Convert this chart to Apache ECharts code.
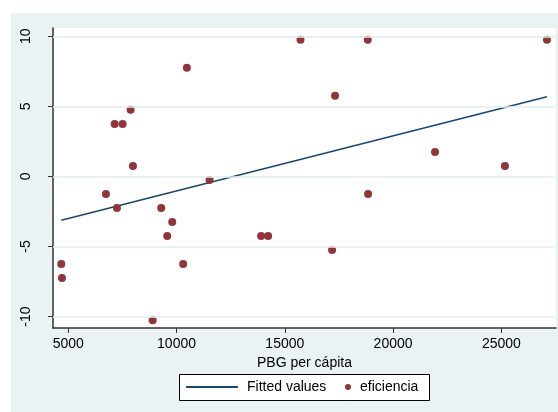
<!DOCTYPE html>
<html>
<head>
<meta charset="utf-8">
<script src="https://cdn.jsdelivr.net/npm/echarts@6/dist/echarts.min.js"></script>
<style>html,body{margin:0;padding:0;background:#fff;}#c{width:558px;height:412px;}</style>
</head>
<body>
<div id="c"></div>
<script>
// PBG per cápita (x) and eficiencia (y)
var pbg = [10478, 7141, 7510, 7879, 7986, 6740, 7247, 9292, 11525, 9800, 9569, 13906, 14229, 4677, 4709, 10307, 8895, 15724, 18830, 27105, 17321, 21936, 25166, 18845, 17183];
var eficiencia = [7.75, 3.75, 3.75, 4.75, 0.75, -1.25, -2.25, -2.25, -0.25, -3.25, -4.25, -4.25, -4.25, -6.25, -7.25, -6.25, -10.25, 9.75, 9.75, 9.75, 5.75, 1.75, 0.75, -1.25, -5.25];
// Fitted values (end points of the fitted line)
var fitX = [4677, 27105];
var fitY = [-3.12, 5.69];
var xTicks = [5000, 10000, 15000, 20000, 25000];
var yTicks = [-10, -5, 0, 5, 10];

var FONT = '"Liberation Sans", Arial, sans-serif';
var chart = echarts.init(document.getElementById('c'), null, {renderer: 'canvas'});
var scatterData = pbg.map(function (v, i) { return [v, eficiencia[i]]; });
var fitData = fitX.map(function (v, i) { return [v, fitY[i]]; });

chart.setOption({
  animation: false,
  backgroundColor: '#ffffff',
  graphic: [
    {type: 'rect', z: -100, shape: {x: 11, y: 13, width: 547, height: 399}, style: {fill: '#EAF2F3'}, silent: true},
    {type: 'rect', z: 50, shape: {x: 179.5, y: 374.5, width: 250, height: 26}, style: {fill: '#ffffff', stroke: '#000000', lineWidth: 1}, silent: true}
  ],
  grid: {left: 53, top: 28, right: 2, bottom: 84, show: true, backgroundColor: '#ffffff', borderWidth: 0},
  xAxis: {
    type: 'value', min: 4294, max: 27524,
    name: 'PBG per cápita', nameLocation: 'middle', nameGap: 19,
    nameTextStyle: {fontFamily: FONT, fontSize: 14, color: '#000'},
    axisLine: {show: true, onZero: false, lineStyle: {color: '#333', width: 1.5}},
    axisTick: {show: true, length: 5, customValues: xTicks, lineStyle: {color: '#333', width: 1}},
    axisLabel: {customValues: xTicks, margin: 9, fontFamily: FONT, fontSize: 14, color: '#000',
      formatter: function (v) { return String(v); }},
    splitLine: {show: false}
  },
  yAxis: {
    type: 'value', min: -10.81, max: 10.59,
    axisLine: {show: true, onZero: false, lineStyle: {color: '#333', width: 1.5}},
    axisTick: {show: true, length: 5, customValues: yTicks, lineStyle: {color: '#333', width: 1}},
    axisLabel: {customValues: yTicks, rotate: 90, margin: 20, fontFamily: FONT, fontSize: 14, color: '#000',
      formatter: function (v) { return String(v); }},
    splitLine: {show: false}
  },
  legend: [
    {z: 100, left: 186, top: 380, itemWidth: 52, itemHeight: 2, padding: 0,
     data: [{name: 'Fitted values', icon: 'rect'}],
     textStyle: {fontFamily: FONT, fontSize: 14, color: '#000', padding: [0, 0, 0, 4]}},
    {z: 100, left: 345, top: 380, itemWidth: 14, itemHeight: 6, padding: 0,
     data: [{name: 'eficiencia', icon: 'circle'}],
     textStyle: {fontFamily: FONT, fontSize: 14, color: '#000'}}
  ],
  series: [
    {
      type: 'line', name: 'gridlines', data: fitData, z: 1, silent: true,
      symbol: 'none', lineStyle: {opacity: 0},
      markLine: {silent: true, symbol: 'none', label: {show: false},
        lineStyle: {color: '#E3ECEE', width: 1.5, type: 'solid'},
        data: yTicks.map(function (t) { return {yAxis: t}; })}
    },
    {
      type: 'line', name: 'Fitted values', data: fitData, z: 3,
      symbol: 'none', lineStyle: {color: '#1A476F', width: 1.5}, itemStyle: {color: '#1A476F'}
    },
    {
      type: 'scatter', name: 'eficiencia', data: scatterData, z: 4,
      symbol: 'circle', symbolSize: 8, itemStyle: {color: '#90353B', opacity: 1}
    }
  ]
});
</script>
</body>
</html>
